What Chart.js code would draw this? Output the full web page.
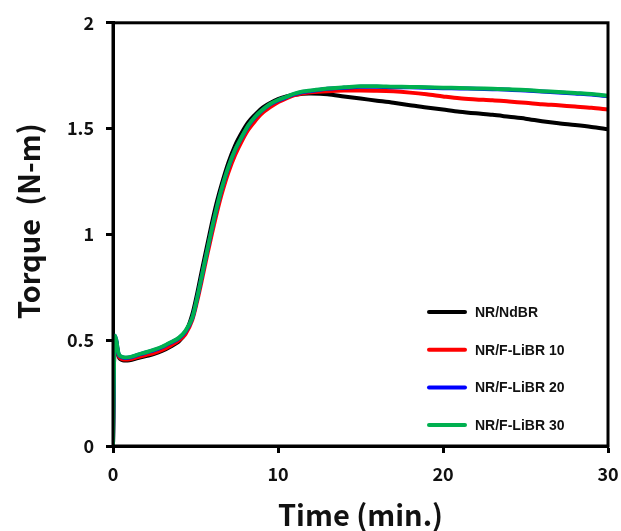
<!DOCTYPE html>
<html>
<head>
<meta charset="utf-8">
<script src="https://cdn.jsdelivr.net/npm/chart.js"></script>
<style>
  html, body { margin: 0; padding: 0; background: #fff; }
  #wrap { width: 621px; height: 531px; }
</style>
</head>
<body>
<div id="wrap"><canvas id="torqueChart" width="621" height="531"></canvas></div>
<script>
// time axis (min.) shared by all four curves
const timeMin = [0, 0.05, 0.1, 0.2, 0.35, 0.6, 1, 1.5, 2, 2.5, 3, 3.5, 4, 4.4, 4.8, 5.1, 5.4, 5.7, 6, 6.3, 6.6, 7, 7.4, 7.8, 8.2, 8.6, 9, 9.5, 10, 10.5, 11, 11.5, 12, 13, 14, 15, 16, 17, 18, 19, 20, 21, 22, 23, 24, 25, 26, 27, 28, 29, 30];

// torque (N-m)
const torqueNdBR = [0, 0.3, 0.51, 0.49, 0.42, 0.405, 0.405, 0.415, 0.425, 0.435, 0.45, 0.47, 0.495, 0.535, 0.62, 0.72, 0.835, 0.945, 1.055, 1.155, 1.24, 1.34, 1.42, 1.48, 1.53, 1.565, 1.595, 1.62, 1.64, 1.652, 1.66, 1.665, 1.666, 1.662, 1.652, 1.642, 1.632, 1.622, 1.61, 1.6, 1.59, 1.58, 1.572, 1.565, 1.556, 1.547, 1.535, 1.525, 1.517, 1.508, 1.497];
const torqueLiBR10 = [0, 0.3, 0.51, 0.49, 0.425, 0.41, 0.41, 0.42, 0.43, 0.44, 0.455, 0.475, 0.5, 0.53, 0.595, 0.685, 0.79, 0.9, 1.005, 1.105, 1.195, 1.295, 1.375, 1.44, 1.495, 1.535, 1.57, 1.6, 1.625, 1.643, 1.658, 1.667, 1.672, 1.677, 1.68, 1.68, 1.679, 1.676, 1.67, 1.662, 1.652, 1.643, 1.638, 1.634, 1.628, 1.622, 1.615, 1.61, 1.604, 1.598, 1.59];
const torqueLiBR20 = [0, 0.3, 0.52, 0.5, 0.432, 0.418, 0.418, 0.43, 0.442, 0.453, 0.468, 0.488, 0.51, 0.542, 0.603, 0.698, 0.808, 0.918, 1.028, 1.128, 1.218, 1.318, 1.398, 1.458, 1.513, 1.553, 1.583, 1.613, 1.633, 1.648, 1.663, 1.673, 1.678, 1.688, 1.693, 1.698, 1.698, 1.696, 1.695, 1.693, 1.691, 1.69, 1.688, 1.686, 1.684, 1.68, 1.675, 1.671, 1.666, 1.661, 1.653];
const torqueLiBR30 = [0, 0.3, 0.52, 0.5, 0.435, 0.42, 0.42, 0.432, 0.443, 0.455, 0.47, 0.49, 0.512, 0.545, 0.605, 0.7, 0.81, 0.92, 1.03, 1.13, 1.22, 1.32, 1.4, 1.46, 1.515, 1.555, 1.585, 1.615, 1.635, 1.65, 1.665, 1.675, 1.68, 1.69, 1.695, 1.7, 1.7, 1.698, 1.697, 1.695, 1.693, 1.692, 1.69, 1.688, 1.686, 1.682, 1.677, 1.673, 1.668, 1.663, 1.655];

const seriesNames = ['NR/NdBR', 'NR/F-LiBR 10', 'NR/F-LiBR 20', 'NR/F-LiBR 30'];
const seriesColors = ['#000000', '#ff0000', '#0000ff', '#00b050'];

const xTickLabels = ['0', '10', '20', '30'];
const yTickLabels = ['0', '0.5', '1', '1.5', '2'];

const axisFont = "'Noto Sans CJK KR', 'Open Sans', sans-serif";

const toPoints = (vals) => vals.map((v, i) => ({ x: timeMin[i], y: v }));
const allSeries = [torqueNdBR, torqueLiBR10, torqueLiBR20, torqueLiBR30];

// frame round the plot + legend inside the lower right corner
const framePlugin = {
    id: 'frame',
    afterDraw(chart) {
        const { ctx, chartArea: a } = chart;
        ctx.save();
        ctx.strokeStyle = '#000';
        ctx.lineWidth = 3;
        ctx.strokeRect(a.left, a.top, a.right - a.left, a.bottom - a.top);

        ctx.font = "bold 14px 'Liberation Sans', Arial, sans-serif";
        ctx.textBaseline = 'middle';
        ctx.textAlign = 'left';
        ctx.lineCap = 'round';
        seriesNames.forEach((name, i) => {
            const y = a.bottom - 134 + i * 37.7;
            ctx.strokeStyle = seriesColors[i];
            ctx.lineWidth = 4;
            ctx.beginPath();
            ctx.moveTo(a.right - 179, y);
            ctx.lineTo(a.right - 143, y);
            ctx.stroke();
            ctx.fillStyle = '#111';
            ctx.fillText(name, a.right - 133, y + 1);
        });
        ctx.restore();
    }
};

const ctx = document.getElementById('torqueChart').getContext('2d');
const chart = new Chart(ctx, {
    type: 'line',
    data: {
        datasets: allSeries.map((vals, i) => ({
            label: seriesNames[i],
            data: toPoints(vals),
            borderColor: seriesColors[i],
            backgroundColor: seriesColors[i],
            borderWidth: 4,
            pointRadius: 0,
            tension: 0.3,
            fill: false,
            order: 3 - i // green on top, black underneath
        }))
    },
    options: {
        responsive: false,
        animation: false,
        layout: { padding: { top: 21, right: 13, left: 0, bottom: 0 } },
        plugins: {
            legend: { display: false },
            tooltip: { enabled: false }
        },
        scales: {
            x: {
                type: 'linear',
                min: 0,
                max: 30,
                afterFit: (s) => { s.height = 85; s.paddingRight = 0; s.paddingLeft = 0; },
                ticks: {
                    stepSize: 10,
                    color: '#111',
                    padding: 10,
                    font: { family: axisFont, size: 18, weight: 'bold' },
                    callback: (v) => xTickLabels[Math.round(v / 10)] ?? ''
                },
                grid: { drawOnChartArea: false, drawTicks: true, tickLength: 7, tickWidth: 3, tickColor: '#000' },
                border: { display: true, color: '#000', width: 3 },
                title: {
                    display: true,
                    text: 'Time (min.)',
                    color: '#111',
                    font: { family: axisFont, size: 29, weight: 'bold', lineHeight: 1 },
                    padding: { top: 0, bottom: 2 }
                }
            },
            y: {
                min: 0,
                max: 2,
                afterFit: (s) => { s.width = 113; },
                ticks: {
                    stepSize: 0.5,
                    color: '#111',
                    padding: 12,
                    font: { family: axisFont, size: 18, weight: 'bold' },
                    callback: (v) => yTickLabels[Math.round(v / 0.5)] ?? ''
                },
                grid: { drawOnChartArea: false, drawTicks: true, tickLength: 7, tickWidth: 3, tickColor: '#000' },
                border: { display: true, color: '#000', width: 3 },
                title: {
                    display: true,
                    // leading spaces nudge the centred title up, as in the original
                    text: '    Torque  (N-m)',
                    color: '#111',
                    font: { family: axisFont, size: 29, weight: 'bold', lineHeight: 1 },
                    padding: { top: 14, bottom: 0 }
                }
            }
        }
    },
    plugins: [framePlugin]
});
</script>
</body>
</html>
